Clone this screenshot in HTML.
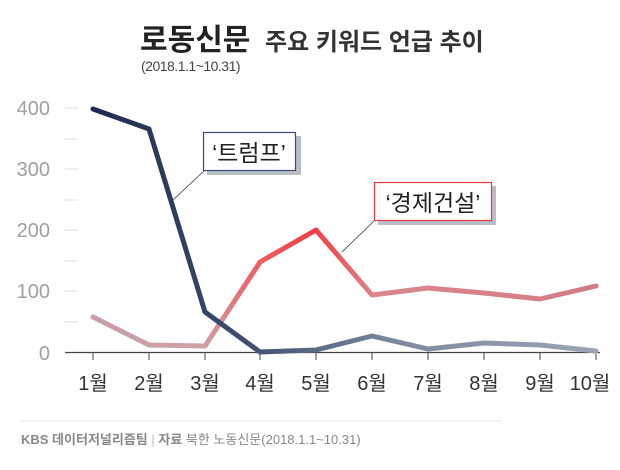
<!DOCTYPE html>
<html><head><meta charset="utf-8"><style>
body{margin:0;background:#fff;}
svg text{font-family:"Liberation Sans","Noto Sans CJK KR",sans-serif;}
</style></head><body>
<svg width="620" height="465" xmlns="http://www.w3.org/2000/svg">
<defs>
<linearGradient id="gt" x1="93" y1="0" x2="596" y2="0" gradientUnits="userSpaceOnUse">
<stop offset="0" stop-color="#1c2a4f"/><stop offset="0.3" stop-color="#3d4e6e"/><stop offset="0.6" stop-color="#7d8a9d"/><stop offset="1" stop-color="#9aa4b2"/></linearGradient>
<linearGradient id="ge" x1="93" y1="0" x2="596" y2="0" gradientUnits="userSpaceOnUse">
<stop offset="0" stop-color="#c9a0a6"/><stop offset="0.22" stop-color="#cfa0a4"/><stop offset="0.33" stop-color="#f05c60"/><stop offset="0.44" stop-color="#f23e44"/><stop offset="0.56" stop-color="#d9868c"/><stop offset="1" stop-color="#d47b84"/></linearGradient>
</defs>
<text x="140" y="50" font-size="30" font-weight="bold" fill="#222" font-family="'Noto Serif CJK SC',serif">로동신문</text>
<text x="265" y="50" font-size="24" font-weight="bold" fill="#333">주요 키워드 언급 추이</text>
<text x="141" y="71" font-size="14" fill="#444" letter-spacing="-0.5">(2018.1.1~10.31)</text>
<g font-size="20" fill="#a0a0a0" text-anchor="end">
<text x="50" y="115">400</text><text x="50" y="176">300</text><text x="50" y="237">200</text><text x="50" y="298">100</text><text x="50" y="360">0</text></g>
<g stroke="#ddd" stroke-width="1">
<line x1="65" x2="78" y1="108" y2="108"/><line x1="65" x2="78" y1="139" y2="139"/><line x1="65" x2="78" y1="169" y2="169"/><line x1="65" x2="78" y1="200" y2="200"/><line x1="65" x2="78" y1="230" y2="230"/><line x1="65" x2="78" y1="261" y2="261"/><line x1="65" x2="78" y1="291" y2="291"/><line x1="65" x2="78" y1="322" y2="322"/></g>
<line x1="65" x2="600" y1="352.5" y2="352.5" stroke="#444" stroke-width="1.2"/>
<g stroke="#444" stroke-width="1">
<line x1="93" x2="93" y1="352" y2="360"/><line x1="149" x2="149" y1="352" y2="360"/><line x1="205" x2="205" y1="352" y2="360"/><line x1="260" x2="260" y1="352" y2="360"/><line x1="316" x2="316" y1="352" y2="360"/><line x1="372" x2="372" y1="352" y2="360"/><line x1="428" x2="428" y1="352" y2="360"/><line x1="484" x2="484" y1="352" y2="360"/><line x1="540" x2="540" y1="352" y2="360"/><line x1="596" x2="596" y1="352" y2="360"/></g>
<g font-size="20" fill="#333" text-anchor="middle">
<text x="93" y="390">1월</text><text x="149" y="390">2월</text><text x="205" y="390">3월</text><text x="260" y="390">4월</text><text x="316" y="390">5월</text><text x="372" y="390">6월</text><text x="428" y="390">7월</text><text x="484" y="390">8월</text><text x="540" y="390">9월</text><text x="590" y="390">10월</text></g>
<polyline fill="none" stroke="url(#ge)" stroke-width="5" stroke-linejoin="round" stroke-linecap="round" points="93,317 149,345 205,346 260,262 316,230 372,295 428,288 484,293 540,299 596,286"/>
<polyline fill="none" stroke="url(#gt)" stroke-width="5" stroke-linejoin="round" stroke-linecap="round" points="93,109 149,129 205,312 260,352 316,350 372,336 428,349 484,343 540,345 596,351"/>
<line x1="205" y1="170" x2="173" y2="200" stroke="#333" stroke-width="0.8"/>
<line x1="374" y1="221" x2="342" y2="252" stroke="#333" stroke-width="0.8"/>
<rect x="207" y="136" width="94" height="39" fill="#b8bec8"/>
<rect x="203.5" y="132.5" width="92" height="38" fill="#fff" stroke="#3a4d78" stroke-width="1.2"/>
<text x="249" y="161" font-size="23" fill="#222" text-anchor="middle">‘트럼프’</text>
<rect x="378" y="186" width="118" height="39" fill="#b8bec8"/>
<rect x="374.5" y="182.5" width="117" height="38" fill="#fff" stroke="#e83a40" stroke-width="1.2"/>
<text x="433" y="211" font-size="23" fill="#222" text-anchor="middle">‘경제건설’</text>
<line x1="20" x2="502" y1="421" y2="421" stroke="#e4e4e4" stroke-width="1"/>
<text x="21" y="444" font-size="13" fill="#888"><tspan font-weight="bold">KBS 데이터저널리즘팀</tspan><tspan fill="#bbb">  |  </tspan><tspan font-weight="bold">자료</tspan>  북한 노동신문(2018.1.1~10.31)</text>
</svg>
</body></html>
